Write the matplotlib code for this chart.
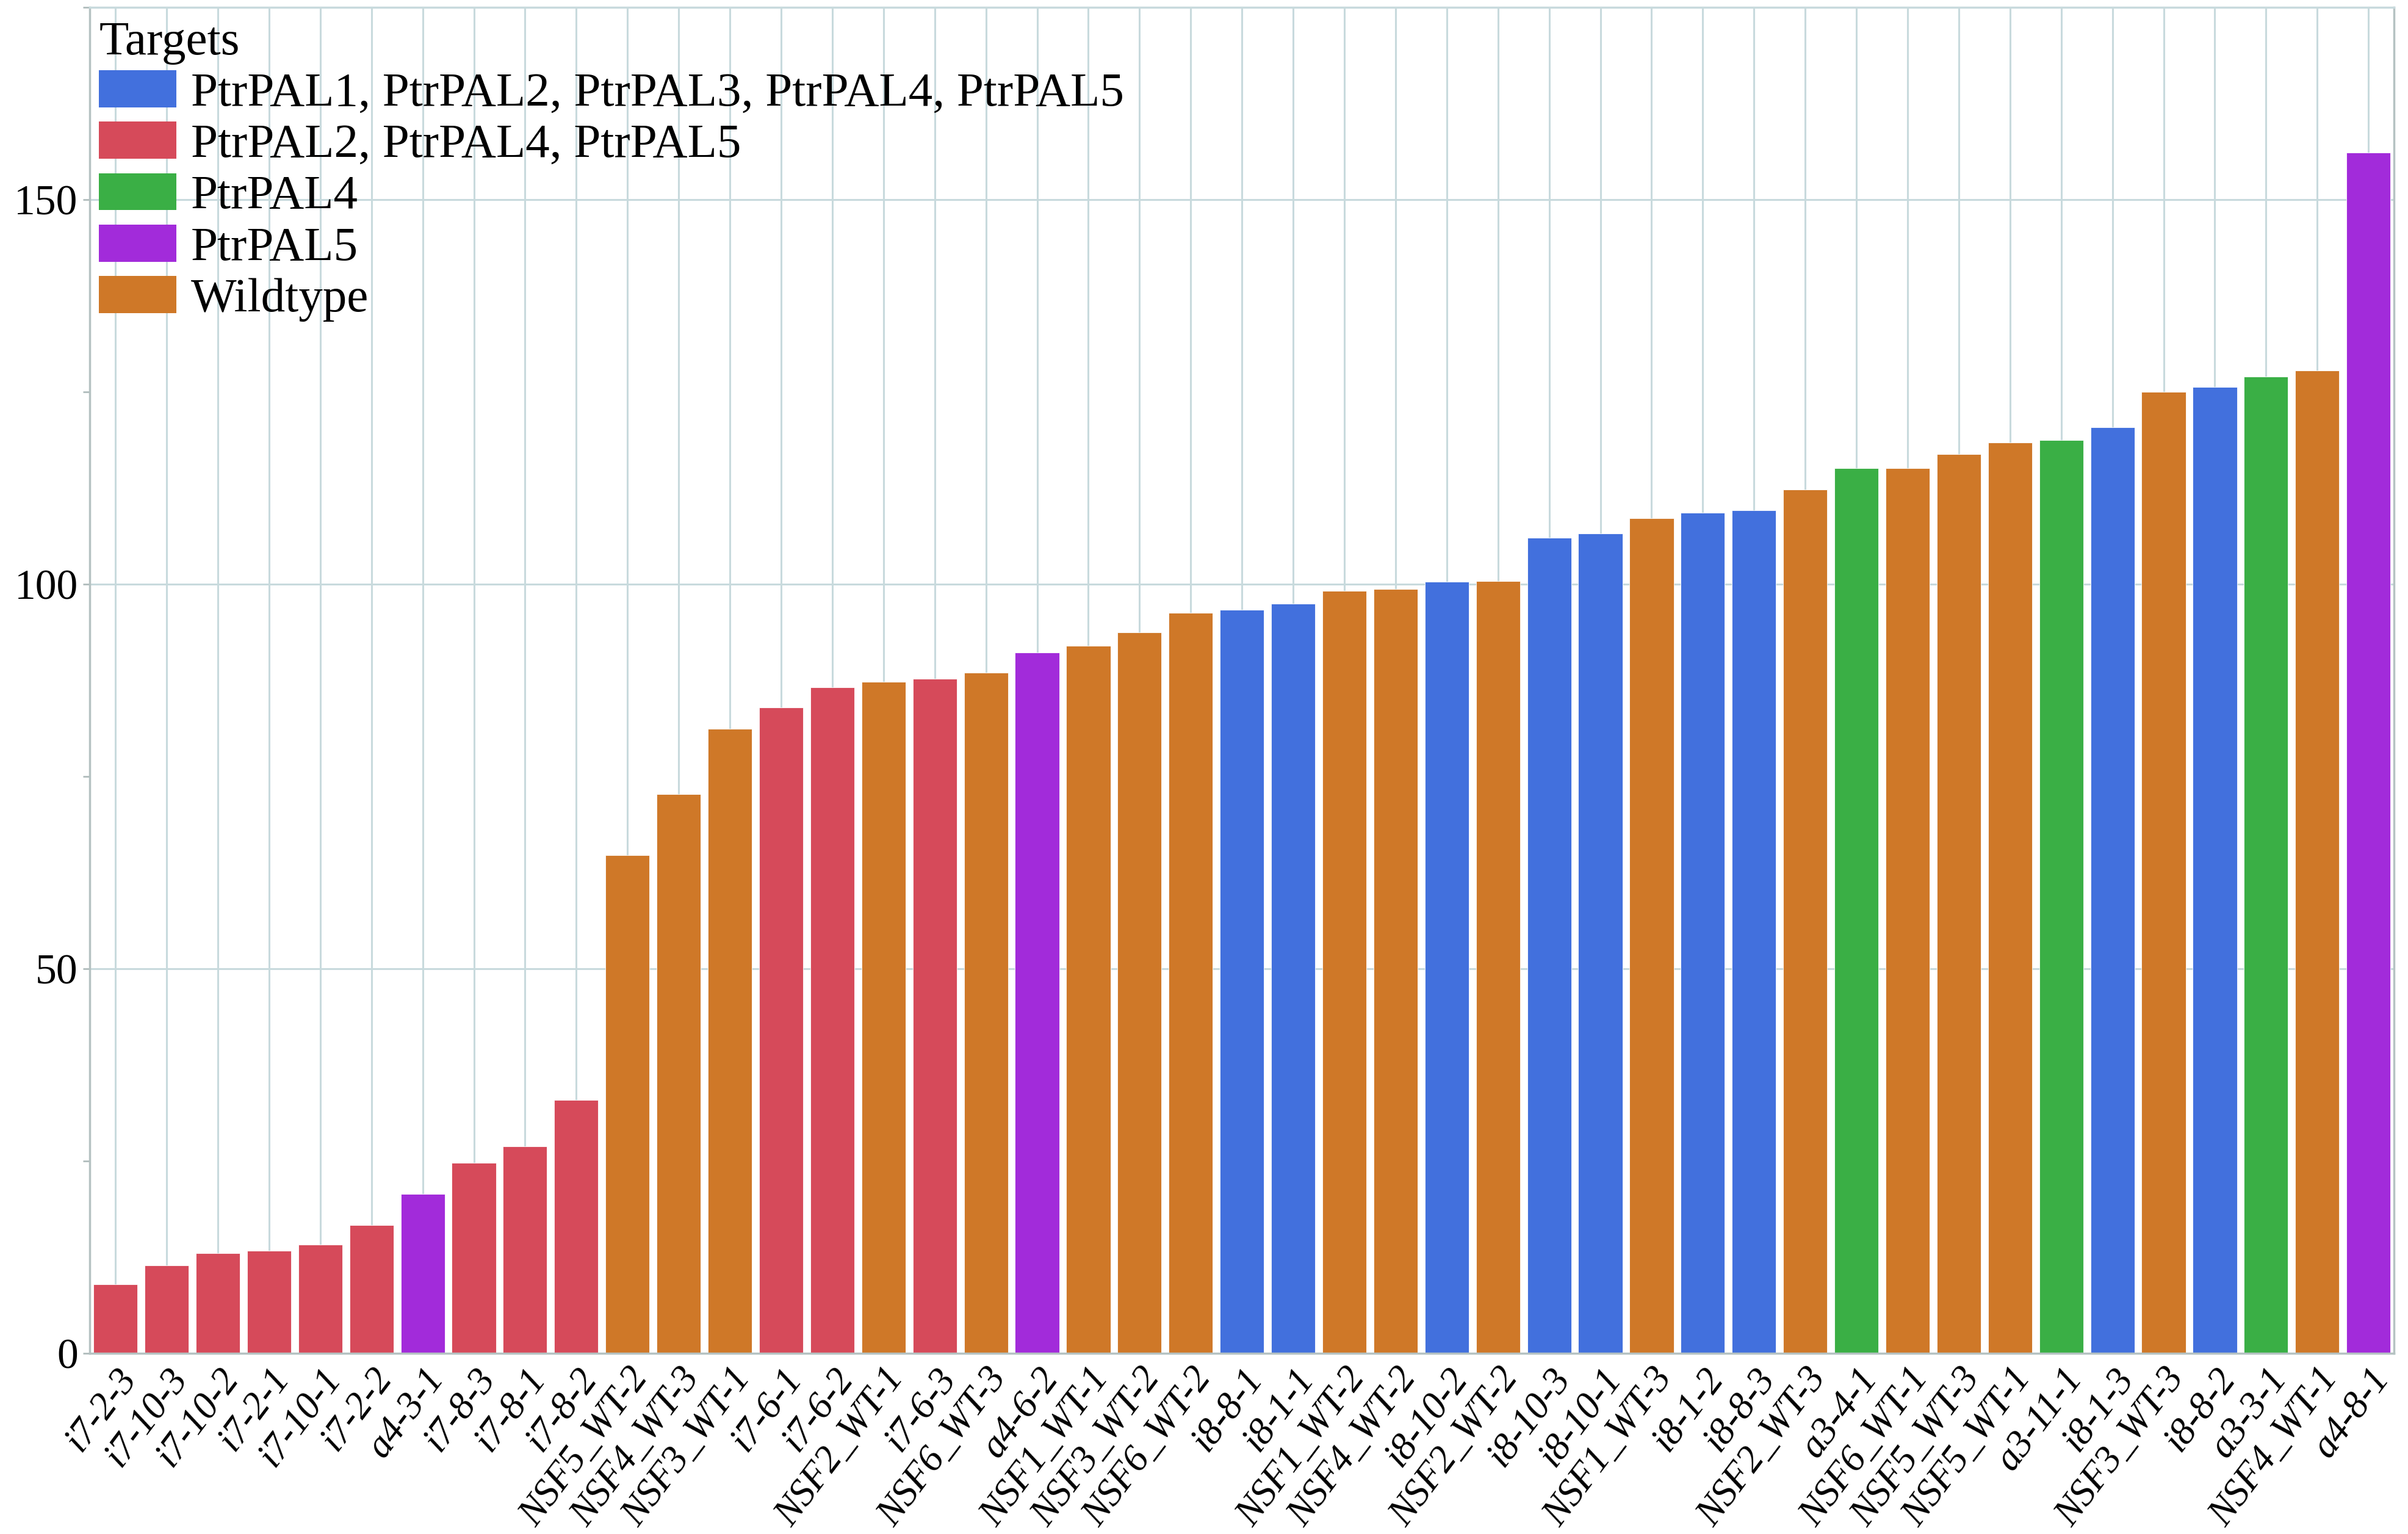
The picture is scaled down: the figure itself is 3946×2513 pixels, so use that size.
import numpy as np
import matplotlib
matplotlib.use('Agg')
import matplotlib.pyplot as plt
from matplotlib.patches import Patch
from matplotlib.ticker import MultipleLocator

plt.rcParams['font.family'] = ['Liberation Serif', 'DejaVu Serif']

samples = ['i7-2-3', 'i7-10-3', 'i7-10-2', 'i7-2-1', 'i7-10-1', 'i7-2-2', 'a4-3-1',
           'i7-8-3', 'i7-8-1', 'i7-8-2', 'NSF5_WT-2', 'NSF4_WT-3', 'NSF3_WT-1',
           'i7-6-1', 'i7-6-2', 'NSF2_WT-1', 'i7-6-3', 'NSF6_WT-3', 'a4-6-2',
           'NSF1_WT-1', 'NSF3_WT-2', 'NSF6_WT-2', 'i8-8-1', 'i8-1-1', 'NSF1_WT-2',
           'NSF4_WT-2', 'i8-10-2', 'NSF2_WT-2', 'i8-10-3', 'i8-10-1', 'NSF1_WT-3',
           'i8-1-2', 'i8-8-3', 'NSF2_WT-3', 'a3-4-1', 'NSF6_WT-1', 'NSF5_WT-3',
           'NSF5_WT-1', 'a3-11-1', 'i8-1-3', 'NSF3_WT-3', 'i8-8-2', 'a3-3-1',
           'NSF4_WT-1', 'a4-8-1']

values = [9.0, 11.4, 13.0, 13.3, 14.1, 16.7, 20.7, 24.8, 26.9, 32.9,
          64.8, 72.7, 81.2, 84.0, 86.6, 87.3, 87.7, 88.5, 91.1,
          92.0, 93.7, 96.3, 96.7, 97.5, 99.1, 99.4, 100.3, 100.4,
          106.0, 106.6, 108.6, 109.3, 109.6, 112.3, 115.1, 115.1, 116.9,
          118.4, 118.7, 120.4, 125.0, 125.6, 127.0, 127.8, 156.1]

# target group of each sample: 0 all five, 1 PAL2/4/5, 2 PAL4, 3 PAL5, 4 wildtype
groups = [1, 1, 1, 1, 1, 1, 3, 1, 1, 1,
          4, 4, 4, 1, 1, 4, 1, 4, 3,
          4, 4, 4, 0, 0, 4, 4, 0, 4,
          0, 0, 4, 0, 0, 4, 2, 4, 4,
          4, 2, 0, 4, 0, 2, 4, 3]

group_names = ['PtrPAL1, PtrPAL2, PtrPAL3, PtrPAL4, PtrPAL5',
               'PtrPAL2, PtrPAL4, PtrPAL5', 'PtrPAL4', 'PtrPAL5', 'Wildtype']
group_colors = ['#4270dd', '#d64a5a', '#3aaf45', '#a22bda', '#cf7828']

fig = plt.figure(figsize=(39.46, 25.13), dpi=100)
ax = fig.add_axes([0.0373, 0.1178, 0.9569, 0.8774])

x = np.arange(len(samples))
colors = [group_colors[g] for g in groups]
ax.bar(x, values, width=0.86, color=colors, edgecolor='white', linewidth=0.6, zorder=2)

ax.set_xlim(-0.5, len(samples) - 0.5)
ax.set_ylim(0, 175)
ax.set_xticks(x)
ax.set_xticklabels(samples, rotation=53, ha='right', rotation_mode='anchor',
                   fontsize=45, fontstyle='italic')
ax.yaxis.set_major_locator(MultipleLocator(50))
ax.yaxis.set_minor_locator(MultipleLocator(25))
ax.tick_params(axis='y', which='major', labelsize=50, length=8, width=2, color='#b0bcbc', pad=6)
ax.tick_params(axis='y', which='minor', length=8, width=2, color='#b0bcbc')
ax.tick_params(axis='x', length=0, pad=10)

ax.grid(True, which='major', color='#c8dadd', linewidth=2.2, zorder=0)
ax.set_axisbelow(True)
for s in ax.spines.values():
    s.set_color('#b5c2c2')
    s.set_linewidth(2.5)
ax.spines['top'].set_color('#c8dadd')

handles = [Patch(facecolor=c, edgecolor='none') for c in group_colors]
leg = ax.legend(handles, group_names, title='Targets', loc='upper left',
                bbox_to_anchor=(0.004, 0.99), frameon=False, fontsize=57,
                title_fontsize=57, handlelength=1.6, handleheight=0.8,
                handletextpad=0.3, labelspacing=0.12, borderpad=0.0,
                borderaxespad=0.0, alignment='left')

fig.savefig('out.png', dpi=100, facecolor='white')
